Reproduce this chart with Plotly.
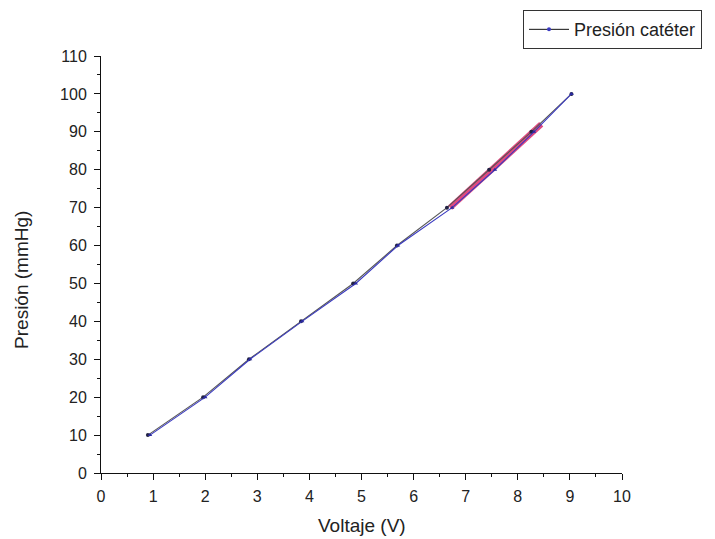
import plotly.graph_objects as go

pressure = [10, 20, 30, 40, 50, 60, 70, 80, 90, 100]
volt_black = [0.90, 1.96, 2.84, 3.84, 4.84, 5.68, 6.64, 7.45, 8.26, 9.03]
volt_blue = [0.94, 2.00, 2.86, 3.86, 4.89, 5.70, 6.74, 7.56, 8.31, 9.03]
pressure_red = [70, 80, 90, 92]
volt_red = [6.70, 7.50, 8.28, 8.45]

fig = go.Figure()
fig.add_trace(go.Scatter(x=volt_red, y=pressure_red, mode="lines",
                         line=dict(color="#e04a80", width=6), showlegend=False))
fig.add_trace(go.Scatter(x=volt_black, y=pressure, mode="lines+markers",
                         line=dict(color="#555555", width=1.1),
                         marker=dict(color="#222244", size=4), showlegend=False))
fig.add_trace(go.Scatter(x=volt_blue, y=pressure, mode="lines+markers",
                         line=dict(color="#3a3ac0", width=1.1),
                         marker=dict(color="#2a2aa0", size=4, symbol="triangle-up"),
                         showlegend=False))
# legend entry (black line, blue marker)
fig.add_trace(go.Scatter(x=[None], y=[None], mode="lines+markers", name="Presión catéter",
                         line=dict(color="#111111", width=1),
                         marker=dict(color="#3a3ac0", size=4)))

font = "Liberation Sans, Arial, sans-serif"
fig.update_layout(
    width=707, height=531,
    margin=dict(l=93, r=93, t=48, b=66, autoexpand=False),
    paper_bgcolor="white", plot_bgcolor="white",
    font=dict(family=font, size=16, color="#222"),
    legend=dict(x=0.81, y=1.11, xanchor="left", yanchor="top",
                bordercolor="#333", borderwidth=1, bgcolor="white",
                font=dict(size=18), itemwidth=40),
    annotations=[
        dict(text="Voltaje (V)", xref="paper", yref="paper", x=0.5, y=0,
             yshift=-52, showarrow=False, font=dict(size=19), yanchor="middle"),
        dict(text="Presión (mmHg)", xref="paper", yref="paper", x=0, y=0.463,
             xshift=-79, textangle=-90, showarrow=False, font=dict(size=19),
             xanchor="center"),
    ],
)
fig.update_xaxes(range=[0, 10], dtick=1, showgrid=False, zeroline=False,
                 showline=True, linecolor="#111", linewidth=1, automargin=False,
                 ticks="outside", ticklen=6, tickcolor="#111", ticklabelstandoff=3,
                 minor=dict(ticks="outside", dtick=0.5, ticklen=3, tickcolor="#111"))
fig.update_yaxes(range=[0, 110], dtick=10, showgrid=False, zeroline=False,
                 showline=True, linecolor="#111", linewidth=1, automargin=False,
                 ticks="outside", ticklen=6, tickcolor="#111", ticklabelstandoff=4,
                 minor=dict(ticks="outside", dtick=5, ticklen=3, tickcolor="#111"))

fig.write_html("out.html")
